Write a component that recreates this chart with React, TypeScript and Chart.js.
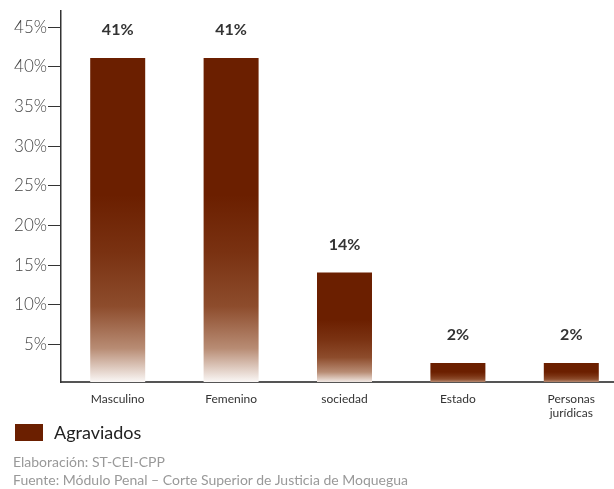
import React, { useEffect, useRef } from "react";
import { Chart, registerables } from "chart.js";

Chart.register(...registerables);

const categories: (string | string[])[] = ["Masculino", "Femenino", "sociedad", "Estado", ["Personas", "jurídicas"]];
const values = [41.1, 41.1, 14.1, 2.7, 2.7];
const valueLabels = ["41%", "41%", "14%", "2%", "2%"];
const yTickValues = [5, 10, 15, 20, 25, 30, 35, 40, 45];
const seriesName = "Agraviados";
const footnotes = ["Elaboración: ST-CEI-CPP", "Fuente: Módulo Penal – Corte Superior de Justicia de Moquegua"];

const DARK = "#6B1F00";
const FONT = "Lato, 'Open Sans', sans-serif";

const dataLabelPlugin = {
  id: "dataLabels",
  afterDatasetsDraw(chart: any) {
    const ctx = chart.ctx;
    const meta = chart.getDatasetMeta(0);
    ctx.save();
    ctx.font = `bold 16px ${FONT}`;
    ctx.fillStyle = "#333";
    ctx.textAlign = "center";
    ctx.textBaseline = "middle";
    meta.data.forEach((el: any, i: number) => {
      ctx.fillText(valueLabels[i], el.x, el.y - 28);
    });
    ctx.restore();
  },
};

export default function App() {
  const ref = useRef<HTMLCanvasElement>(null);
  useEffect(() => {
    if (!ref.current) return;
    const chart = new Chart(ref.current, {
      type: "bar",
      data: {
        labels: categories,
        datasets: [
          {
            label: seriesName,
            data: values,
            backgroundColor: (c: any) => {
              const ch = c.chart;
              const y = ch.scales && ch.scales.y;
              if (!y || c.type !== "data") return DARK;
              const top = y.getPixelForValue(c.raw);
              const bottom = y.getPixelForValue(0);
              if (!isFinite(top) || !isFinite(bottom) || bottom - top < 1) return DARK;
              const g = ch.ctx.createLinearGradient(0, top, 0, bottom);
              g.addColorStop(0, DARK);
              g.addColorStop(0.42, DARK);
              g.addColorStop(0.6, "#7A3212");
              g.addColorStop(0.76, "#8D4C2C");
              g.addColorStop(0.89, "#B88C74");
              g.addColorStop(1, "#FFFFFF");
              return g;
            },
            barPercentage: 0.485,
            categoryPercentage: 1,
          },
        ],
      },
      plugins: [dataLabelPlugin],
      options: {
        animation: false,
        responsive: false,
        maintainAspectRatio: false,
        layout: { padding: { top: 8, right: 2, bottom: 67, left: 0 } },
        plugins: {
          legend: { display: false },
          tooltip: { enabled: false },
        },
        scales: {
          x: {
            grid: { display: false, drawTicks: false },
            border: { display: true, color: "#555", width: 2 },
            ticks: { color: "#333", font: { family: FONT, size: 12 }, padding: 10, maxRotation: 0, autoSkip: false },
            afterFit: (s: any) => { s.height = 40; },
          },
          y: {
            min: 0.3,
            max: 47,
            grid: { drawOnChartArea: false, drawTicks: true, tickLength: 13, color: "#333", lineWidth: 1 },
            border: { display: true, color: "#333", width: 1.5 },
            ticks: {
              padding: 1,
              color: "#444",
              font: { family: FONT, size: 17, weight: 300 as any },
              callback: (v: any) => `${v}%`,
            },
            afterBuildTicks: (s: any) => {
              s.ticks = yTickValues.map((v) => ({ value: v }));
            },
            afterFit: (s: any) => { s.width = 61; },
          },
        },
      },
    });
    return () => chart.destroy();
  }, []);

  return (
    <div style={{ position: "absolute", left: 0, top: 0, width: 614, height: 489, background: "#fff", fontFamily: FONT, overflow: "hidden" }}>
      <canvas ref={ref} width={630} height={489} style={{ position: "absolute", left: 0, top: 0, width: 630, height: 489 }} />
      <div style={{ position: "absolute", left: 15, top: 424, width: 28, height: 17, background: DARK }} />
      <div style={{ position: "absolute", left: 54, top: 421, fontSize: 18, lineHeight: "22px", color: "#222" }}>
        {seriesName}
      </div>
      <div style={{ position: "absolute", left: 13, top: 453, fontSize: 14, lineHeight: "18px", color: "#999" }}>
        {footnotes.map((f, i) => (
          <div key={i}>{f}</div>
        ))}
      </div>
    </div>
  );
}
